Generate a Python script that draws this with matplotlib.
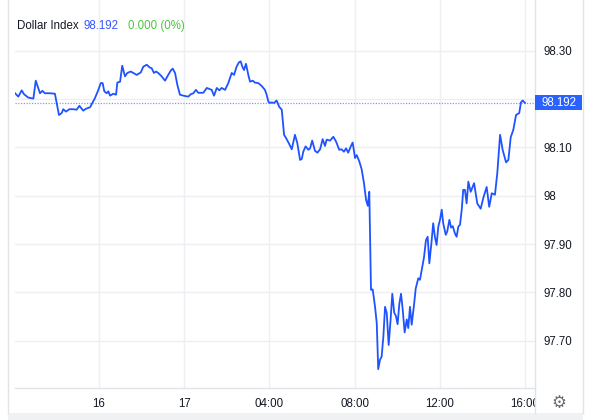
import matplotlib
matplotlib.use("Agg")
import matplotlib.pyplot as plt
from matplotlib.lines import Line2D
from matplotlib.patches import Rectangle
import matplotlib.transforms as mtransforms

plt.rcParams['font.family'] = ['Liberation Sans', 'DejaVu Sans']

# ---- data ----
hours = [-3.94, -3.79, -3.63, -3.52, -3.32, -3.08, -2.97, -2.90, -2.77, -2.66,
         -2.54, -2.30, -2.07, -1.99, -1.88, -1.75, -1.68, -1.55, -1.39, -1.21,
         -1.05, -0.92, -0.74, -0.61, -0.42, -0.19, -0.03, 0.08, 0.17, 0.25,
         0.36, 0.44, 0.52, 0.67, 0.80, 0.86, 0.99, 1.09, 1.22, 1.33,
         1.49, 1.61, 1.77, 1.96, 2.08, 2.24, 2.39, 2.47, 2.58, 2.68,
         2.78, 2.94, 3.10, 3.25, 3.37, 3.46, 3.57, 3.68, 3.80, 3.96,
         4.19, 4.31, 4.43, 4.55, 4.66, 4.90, 5.06, 5.29, 5.40, 5.53,
         5.65, 5.76, 5.92, 6.07, 6.23, 6.34, 6.46, 6.57, 6.65, 6.73,
         6.81, 6.90, 7.01, 7.09, 7.22, 7.32, 7.48, 7.64, 7.79, 7.87,
         7.95, 8.00, 8.11, 8.22, 8.34, 8.46, 8.58, 8.69, 8.81, 8.93,
         9.05, 9.20, 9.31, 9.44, 9.52, 9.59, 9.70, 9.83, 9.91, 10.01,
         10.14, 10.25, 10.38, 10.50, 10.61, 10.69, 10.85, 11.00, 11.13, 11.28,
         11.39, 11.50, 11.60, 11.70, 11.82, 11.91, 12.02, 12.10, 12.22, 12.33,
         12.44, 12.54, 12.62, 12.69, 12.77, 12.85, 12.96, 13.04, 13.11, 13.19,
         13.27, 13.35, 13.43, 13.51, 13.60, 13.69, 13.77, 13.86, 13.94, 14.02,
         14.10, 14.18, 14.26, 14.35, 14.45, 14.52, 14.60, 14.68, 14.79, 14.87,
         14.99, 15.07, 15.18, 15.26, 15.35, 15.43, 15.51, 15.62, 15.69, 15.77,
         15.85, 15.93, 16.01, 16.09, 16.16, 16.28, 16.35, 16.45, 16.53, 16.61,
         16.71, 16.79, 16.87, 16.95, 17.03, 17.10, 17.18, 17.26, 17.34, 17.45,
         17.61, 17.76, 17.92, 18.04, 18.20, 18.32, 18.44, 18.59, 18.70, 18.83,
         18.95, 19.11, 19.22, 19.33, 19.45, 19.58, 19.73, 19.81, 19.89, 20.00]

prices = [98.212, 98.205, 98.218, 98.210, 98.203, 98.201, 98.238, 98.229, 98.212, 98.217,
          98.212, 98.212, 98.211, 98.192, 98.167, 98.171, 98.179, 98.174, 98.179, 98.179,
          98.178, 98.186, 98.176, 98.180, 98.183, 98.202, 98.219, 98.233, 98.233, 98.216,
          98.212, 98.216, 98.207, 98.211, 98.209, 98.234, 98.236, 98.269, 98.247, 98.254,
          98.257, 98.254, 98.250, 98.255, 98.267, 98.271, 98.265, 98.264, 98.254, 98.257,
          98.254, 98.247, 98.238, 98.250, 98.259, 98.263, 98.254, 98.229, 98.209, 98.207,
          98.205, 98.210, 98.212, 98.219, 98.213, 98.213, 98.223, 98.219, 98.207, 98.223,
          98.218, 98.223, 98.219, 98.233, 98.254, 98.250, 98.267, 98.276, 98.278, 98.267,
          98.260, 98.273, 98.250, 98.236, 98.238, 98.234, 98.233, 98.227, 98.219, 98.209,
          98.195, 98.192, 98.193, 98.192, 98.197, 98.184, 98.178, 98.126, 98.117, 98.107,
          98.096, 98.126, 98.109, 98.074, 98.076, 98.091, 98.102, 98.095, 98.098, 98.114,
          98.093, 98.089, 98.096, 98.117, 98.103, 98.116, 98.114, 98.122, 98.112, 98.095,
          98.096, 98.091, 98.098, 98.089, 98.102, 98.110, 98.078, 98.084, 98.071, 98.055,
          98.026, 97.991, 97.979, 98.008, 97.805, 97.806, 97.770, 97.736, 97.641, 97.660,
          97.667, 97.708, 97.770, 97.757, 97.691, 97.743, 97.797, 97.758, 97.751, 97.734,
          97.776, 97.797, 97.764, 97.717, 97.744, 97.726, 97.770, 97.733, 97.774, 97.808,
          97.829, 97.826, 97.853, 97.873, 97.908, 97.915, 97.860, 97.908, 97.943, 97.915,
          97.898, 97.936, 97.950, 97.971, 97.943, 97.919, 97.926, 97.950, 97.934, 97.937,
          97.922, 97.915, 97.936, 97.940, 97.971, 98.012, 98.012, 97.984, 98.029, 98.008,
          98.026, 97.984, 97.973, 97.995, 98.018, 97.977, 98.005, 98.002, 98.047, 98.126,
          98.095, 98.069, 98.074, 98.121, 98.136, 98.167, 98.171, 98.193, 98.197, 98.192]

xtick_pos = [0, 4, 8, 12, 16, 20]
xtick_labels = ["16", "17", "04:00", "08:00", "12:00", "16:00"]
ytick_pos = [97.70, 97.80, 97.90, 98.00, 98.10, 98.20, 98.30]
ytick_labels = ["97.70", "97.80", "97.90", "98", "98.10", "", "98.30"]

title_name = "Dollar Index"
last_price = 98.192
last_label = "98.192"
change_label = "0.000 (0%)"

# ---- styling ----
W, H = 600, 420
LINE_BLUE = '#1E53FF'
GRID = '#EDEFF3'
BORDER = '#E0E3E8'
TXT = '#131722'

fig = plt.figure(figsize=(W / 100, H / 100), dpi=100)
fig.patch.set_facecolor('white')

left_px, right_px, top_px, bottom_px = 15, 535, 0, 388
ax = fig.add_axes([left_px / W, 1 - bottom_px / H,
                   (right_px - left_px) / W, (bottom_px - top_px) / H])

ax.plot(hours, prices, color=LINE_BLUE, lw=1.3, solid_joinstyle='round', zorder=3)
ax.axhline(last_price, color='#7C9CFA', lw=0.9, ls=(0, (1, 1.2)), zorder=2)

ax.set_xlim(-3.944, 20.47)
ax.set_ylim(97.602, 98.405)

ax.set_xticks(xtick_pos)
ax.set_xticklabels(xtick_labels)
ax.set_yticks(ytick_pos)
ax.set_yticklabels(ytick_labels)
ax.yaxis.tick_right()
ax.tick_params(axis='both', length=0, labelsize=8.3, colors=TXT)
ax.tick_params(axis='x', pad=7)
ax.tick_params(axis='y', pad=6)
ax.grid(True, color=GRID, lw=1.0, zorder=0)
ax.set_axisbelow(True)
for s in ['top', 'left']:
    ax.spines[s].set_visible(False)
ax.spines['right'].set_color(BORDER)
ax.spines['bottom'].set_color(BORDER)
ax.spines['right'].set_linewidth(1.0)
ax.spines['bottom'].set_linewidth(1.0)

# clip the "16:00" label like the reference
for lbl in ax.get_xticklabels():
    if lbl.get_text() == "16:00":
        lbl.set_clip_on(True)
        clip = Rectangle((0, 0), right_px / W, 1, transform=fig.transFigure)
        lbl.set_clip_path(clip)

# frame lines
fig.add_artist(Line2D([8 / W, 8 / W], [1 - 413 / H, 1], transform=fig.transFigure,
                      color=BORDER, lw=1.0))
fig.add_artist(Line2D([583 / W, 583 / W], [1 - 413 / H, 1], transform=fig.transFigure,
                      color=BORDER, lw=1.0))
fig.add_artist(Line2D([right_px / W, right_px / W], [1 - 413 / H, 1 - bottom_px / H],
                      transform=fig.transFigure, color=BORDER, lw=1.0))
fig.add_artist(Rectangle((8 / W, 0), 575 / W, 7 / H, transform=fig.transFigure,
                         facecolor='#F0F1F3', edgecolor='none'))

# last price box
trans = mtransforms.blended_transform_factory(ax.transAxes, ax.transData)
box_w = 47 / (right_px - left_px)
box_h = 15 / (bottom_px - top_px) * (98.405 - 97.602)
ax.add_patch(Rectangle((1.0, last_price - box_h / 2), box_w, box_h, transform=trans,
                       facecolor='#2962FF', edgecolor='none', clip_on=False, zorder=5))
ax.text(1.0 + box_w / 2, last_price, last_label, transform=trans, ha='center',
        va='center', color='white', fontsize=8.3, zorder=6, clip_on=False)

# gear icon
fig.text(559 / W, 1 - 403 / H, "\u2699", ha='center', va='center', fontsize=12,
         color='#6A6D78', family=['DejaVu Sans'])

# title
t1 = fig.text(17 / W, 1 - 26 / H, title_name, ha='left', va='center',
              fontsize=8.3, color=TXT)
t2 = ax.annotate(last_label, xy=(1, 0.5), xycoords=t1, xytext=(3.5, 0),
                 textcoords='offset points', ha='left', va='center',
                 fontsize=8.3, color='#3355FF', annotation_clip=False)
ax.annotate(change_label, xy=(1, 0.5), xycoords=t2, xytext=(7, 0),
            textcoords='offset points', ha='left', va='center',
            fontsize=8.3, color='#4CC63F', annotation_clip=False)

fig.savefig('out.png', dpi=100, facecolor='white')
